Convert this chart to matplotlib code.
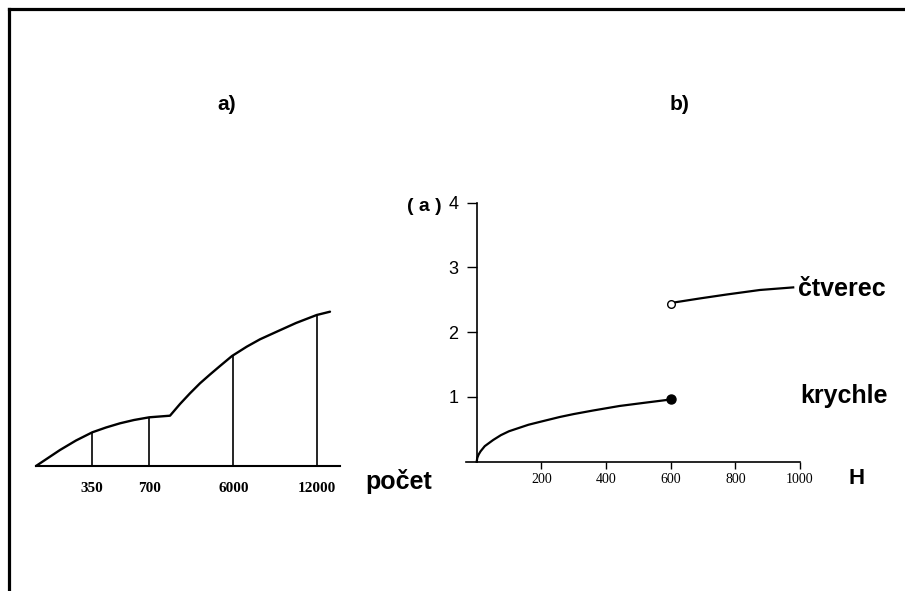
import matplotlib
matplotlib.use("Agg")
import matplotlib.pyplot as plt
from matplotlib.lines import Line2D

# ---------------- data ----------------
# panel a) (schematic curve, layout units along the axis)
curve_a_x = [0, 12, 24, 40, 56.3, 70, 84, 98, 113.3, 134, 144, 154, 164, 174, 184,
             196, 210.7, 224, 240.7, 260, 280.7, 294]
curve_a_y = [0, 8, 16, 25.5, 33.7, 38.5, 42.7, 46, 48.7, 50.3, 62, 72.7, 82.7, 91.5,
             100, 110, 119.3, 126.7, 134.3, 143, 151, 154.3]
a_tick_pos = [56.3, 113.3, 197.3, 280.7]
a_tick_height = [33.7, 48.7, 111, 151]
a_tick_labels = ["350", "700", "6000", "12000"]

# panel b)
krychle_H = [0, 2, 6, 12, 25, 51, 75, 100, 130, 160, 200, 257, 300, 360, 442, 520, 600]
krychle_v = [0, 0.06, 0.11, 0.16, 0.24, 0.335, 0.41, 0.47, 0.52, 0.57, 0.62, 0.69,
             0.735, 0.79, 0.86, 0.91, 0.96]
ctverec_H = [600, 614, 691, 773, 876, 979]
ctverec_v = [2.44, 2.46, 2.52, 2.58, 2.65, 2.69]
b_xticks = [200, 400, 600, 800, 1000]
b_yticks = [1, 2, 3, 4]

W, H = 905, 591
fig = plt.figure(figsize=(W / 100, H / 100), dpi=100)
fig.patch.set_facecolor("white")

def fx(px):
    return px / W

def fy(py):
    return 1 - py / H

# border (top and left)
fig.add_artist(Line2D([fx(9), 1.0], [fy(9), fy(9)], color="black", lw=2.3,
                      transform=fig.transFigure, solid_capstyle="projecting"))
fig.add_artist(Line2D([fx(9), fx(9)], [fy(9), 0.0], color="black", lw=2.3,
                      transform=fig.transFigure, solid_capstyle="projecting"))

# ---------------- panel a ----------------
axa = fig.add_axes([fx(36), fy(466), 304 / W, 160 / H])
axa.set_xlim(0, 304)
axa.set_ylim(0, 160)
for s in ["top", "right", "left"]:
    axa.spines[s].set_visible(False)
axa.spines["bottom"].set_linewidth(1.5)
axa.plot(curve_a_x, curve_a_y, color="black", lw=1.7, clip_on=False,
         solid_capstyle="round", solid_joinstyle="round")
axa.vlines(a_tick_pos, 0, a_tick_height, color="black", lw=1.2)
axa.set_yticks([])
axa.set_xticks(a_tick_pos)
axa.set_xticklabels(a_tick_labels, family="Liberation Serif", fontsize=11,
                    fontweight="bold")
axa.tick_params(axis="x", length=0, pad=11.5)
axa.patch.set_alpha(0)

# ---------------- panel b ----------------
axb = fig.add_axes([fx(466), fy(461.7), 334 / W, 259.2 / H])
axb.set_xlim(-33, 1000)
axb.set_ylim(0, 4)
axb.spines["top"].set_visible(False)
axb.spines["right"].set_visible(False)
axb.spines["left"].set_position(("data", 0))
axb.spines["left"].set_linewidth(1.2)
axb.spines["bottom"].set_linewidth(1.2)
axb.plot(krychle_H, krychle_v, color="black", lw=1.6, clip_on=False,
         solid_joinstyle="round")
axb.plot(ctverec_H, ctverec_v, color="black", lw=1.6, clip_on=False,
         solid_joinstyle="round")
axb.plot([krychle_H[-1]], [krychle_v[-1]], "o", color="black", ms=6.5,
         clip_on=False, zorder=5)
axb.plot([ctverec_H[0]], [ctverec_v[0]], "o", mfc="white", mec="black",
         mew=1.0, ms=5.5, clip_on=False, zorder=5)
axb.set_xticks(b_xticks)
axb.set_xticklabels([str(t) for t in b_xticks], family="Liberation Serif",
                    fontsize=10)
axb.set_yticks(b_yticks)
axb.set_yticklabels([str(t) for t in b_yticks], family="Liberation Sans",
                    fontsize=13)
axb.tick_params(axis="x", direction="out", length=5, width=1.0, pad=3)
axb.tick_params(axis="y", direction="out", length=7, width=1.0, pad=6)
axb.patch.set_alpha(0)

# ---------------- text ----------------
bold = dict(family="Liberation Sans", fontweight="bold")
fig.text(fx(226.3), fy(105), "a)", ha="center", va="center", fontsize=15, **bold)
fig.text(fx(680), fy(105), "b)", ha="center", va="center", fontsize=15, **bold)
fig.text(fx(441.7), fy(206), "( a )", ha="right", va="center", fontsize=14, **bold)
fig.text(fx(798), fy(289), "čtverec", ha="left", va="center", fontsize=18, **bold)
fig.text(fx(800), fy(396), "krychle", ha="left", va="center", fontsize=18, **bold)
fig.text(fx(365), fy(481), "počet", ha="left", va="center", fontsize=18, **bold)
fig.text(fx(856.7), fy(479), "H", ha="center", va="center", fontsize=16, **bold)

fig.savefig("out.png", dpi=100, facecolor="white")
